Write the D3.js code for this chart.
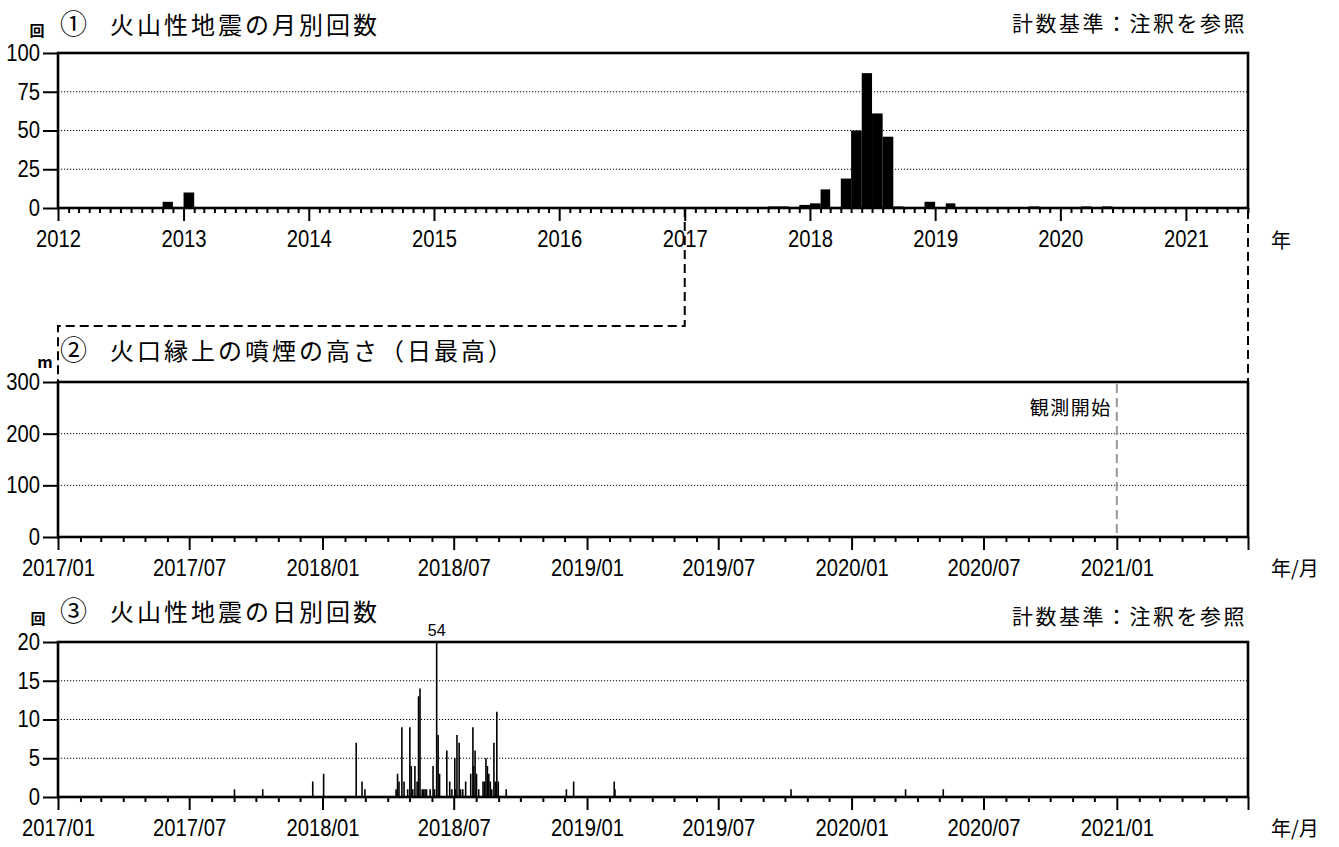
<!DOCTYPE html>
<html>
<head>
<meta charset="utf-8">
<script src="https://cdn.jsdelivr.net/npm/d3@7"></script>
<style>
    body { margin: 0; background: #fff; }
    svg { display: block; }
    .num { font-family: "Liberation Sans", Arial, sans-serif; }
    .jp { font-family: "Noto Sans CJK JP", sans-serif; }
</style>
</head>
<body>
<div id="chart"></div>
<script>
// ① 月別回数（0 の月は省略）
const monthlyMonths = ['2012-11', '2013-01', '2017-09', '2017-10', '2017-12', '2018-01', '2018-02',
    '2018-04', '2018-05', '2018-06', '2018-07', '2018-08', '2018-09', '2018-12', '2019-02',
    '2019-10', '2020-03', '2020-05'];
const monthlyCounts = [4, 10, 1, 1, 2, 3, 12, 19, 50, 87, 61, 46, 1, 4, 3, 1, 1, 1];

// ③ 日別回数（0 の日は省略）
const dailyDates = ['2017-09-01', '2017-10-10', '2017-12-18', '2018-01-02', '2018-02-16', '2018-02-24',
    '2018-02-28', '2018-04-12', '2018-04-14', '2018-04-16', '2018-04-20', '2018-04-23', '2018-04-28',
    '2018-05-01', '2018-05-03', '2018-05-05', '2018-05-08', '2018-05-11', '2018-05-13', '2018-05-15',
    '2018-05-18', '2018-05-20', '2018-05-22', '2018-05-24', '2018-05-29', '2018-06-02', '2018-06-04',
    '2018-06-07', '2018-06-09', '2018-06-11', '2018-06-21', '2018-06-25', '2018-06-28', '2018-07-02',
    '2018-07-03', '2018-07-05', '2018-07-08', '2018-07-10', '2018-07-13', '2018-07-17', '2018-07-24',
    '2018-07-27', '2018-07-28', '2018-07-30', '2018-08-01', '2018-08-04', '2018-08-10', '2018-08-12',
    '2018-08-14', '2018-08-16', '2018-08-18', '2018-08-20', '2018-08-22', '2018-08-25', '2018-08-27',
    '2018-08-29', '2018-08-31', '2018-09-11', '2018-12-03', '2018-12-13', '2019-02-07', '2019-02-08',
    '2019-10-09', '2020-03-15', '2020-05-06'];
const dailyCounts = [1, 1, 2, 3, 7, 2,
    1, 1, 3, 2, 9, 2, 1,
    9, 4, 1, 4, 2, 13, 14,
    1, 1, 1, 1, 1, 4, 1,
    54, 8, 3, 6, 2, 1, 5,
    1, 8, 7, 1, 1, 2, 3,
    9, 4, 6, 3, 1, 2, 2,
    5, 4, 3, 2, 1, 7, 2,
    11, 2, 1, 1, 2, 2, 1,
    1, 1, 1];

const yearLabels = ['2012', '2013', '2014', '2015', '2016', '2017', '2018', '2019', '2020', '2021'];
const monthLabels = ['2017/01', '2017/07', '2018/01', '2018/07', '2019/01', '2019/07', '2020/01', '2020/07', '2021/01'];
const countTicks = [0, 25, 50, 75, 100];
const heightTicks = [0, 100, 200, 300];
const dailyTicks = [0, 5, 10, 15, 20];
const plumeStart = '2021-01-01';

const W = 1339, H = 847;
const left = 58, right = 1248;
const p1 = { top: 53, bottom: 208 };
const p2 = { top: 382, bottom: 537 };
const p3 = { top: 642, bottom: 797 };

const parseMonth = d3.utcParse('%Y-%m');
const parseDay = d3.utcParse('%Y-%m-%d');
const parseLabel = d3.utcParse('%Y/%m');

const start1 = Date.UTC(2012, 0, 1), end1 = Date.UTC(2021, 6, 1);
const start2 = Date.UTC(2017, 0, 1), end2 = Date.UTC(2021, 6, 1);

const x1 = d3.scaleUtc().domain([start1, end1]).range([left, right]);
const x2 = d3.scaleUtc().domain([start2, end2]).range([left, right]);
const y1 = d3.scaleLinear().domain([0, 100]).range([p1.bottom, p1.top]);
const y2 = d3.scaleLinear().domain([0, 300]).range([p2.bottom, p2.top]);
const y3 = d3.scaleLinear().domain([0, 20]).range([p3.bottom, p3.top]);

const svg = d3.select('#chart').append('svg')
    .attr('width', W)
    .attr('height', H);

// 数字を縦長に見せる（細めの書体の代わり）
function narrow(sel, size) {
    sel.attr('class', 'num')
        .attr('font-size', size)
        .attr('fill', '#000')
        .each(function() {
            const t = d3.select(this);
            const x = +t.attr('x') || 0;
            t.attr('x', 0).attr('transform', `translate(${x},0) scale(0.88,1)`);
        });
}

function drawGrid(y, ticks) {
    svg.append('g')
        .selectAll('line')
        .data(ticks.slice(1, -1))
        .join('line')
        .attr('x1', left)
        .attr('x2', right)
        .attr('y1', d => y(d))
        .attr('y2', d => y(d))
        .attr('stroke', '#000')
        .attr('stroke-width', 1)
        .attr('stroke-dasharray', '1.2,1.8');
}

function drawYAxis(y, ticks) {
    const g = svg.append('g')
        .attr('transform', `translate(${left},0)`)
        .call(d3.axisLeft(y).tickValues(ticks).tickSize(15).tickPadding(3));
    g.select('.domain').remove();
    g.selectAll('line').attr('stroke-width', 2);
    narrow(g.selectAll('text'), 23);
}

function drawXAxis(x, yPos, minor, major, fmt) {
    const gMinor = svg.append('g')
        .attr('transform', `translate(0,${yPos})`)
        .call(d3.axisBottom(x).tickValues(minor).tickSize(5).tickFormat(''));
    gMinor.select('.domain').remove();
    gMinor.selectAll('line').attr('stroke-width', 2);

    const gMajor = svg.append('g')
        .attr('transform', `translate(0,${yPos})`)
        .call(d3.axisBottom(x).tickValues(major).tickSize(13).tickPadding(10).tickFormat(fmt));
    gMajor.select('.domain').remove();
    gMajor.selectAll('line').attr('stroke-width', 2);
    narrow(gMajor.selectAll('text'), 23);
}

function drawFrame(p) {
    svg.append('rect')
        .attr('x', left)
        .attr('y', p.top)
        .attr('width', right - left)
        .attr('height', p.bottom - p.top)
        .attr('fill', 'none')
        .attr('stroke', '#000')
        .attr('stroke-width', 2.6);
}

function addText(x, y, str, size, anchor, cls, spacing, weight) {
    return svg.append('text')
        .attr('class', cls)
        .attr('x', x)
        .attr('y', y)
        .attr('font-size', size)
        .attr('text-anchor', anchor || 'start')
        .attr('letter-spacing', spacing || 0)
        .attr('font-weight', weight || 'normal')
        .attr('fill', '#000')
        .text(str);
}

// ---------- ① 火山性地震の月別回数 ----------
const monthly = monthlyMonths.map((m, i) => ({ date: parseMonth(m), v: monthlyCounts[i] }));

drawGrid(y1, countTicks);

svg.append('g')
    .selectAll('rect')
    .data(monthly)
    .join('rect')
    .attr('x', d => x1(d.date))
    .attr('width', d => x1(d3.utcMonth.offset(d.date, 1)) - x1(d.date))
    .attr('y', d => y1(d.v))
    .attr('height', d => y1(0) - y1(d.v))
    .attr('fill', '#000');

const years = yearLabels.map(s => Date.UTC(+s, 0, 1));
const months1 = d3.utcMonth.range(start1, end1 + 1).filter(d => d.getUTCMonth() !== 0);
drawXAxis(x1, p1.bottom, months1, years, (d, i) => yearLabels[i]);
drawYAxis(y1, countTicks);
drawFrame(p1);

addText(37, 36, '回', 15, 'middle', 'jp', 0, 'bold');
addText(60, 34, '①', 27, 'start', 'jp');
addText(110, 34, '火山性地震の月別回数', 24, 'start', 'jp', 3);
addText(1247, 31, '計数基準：注釈を参照', 21, 'end', 'jp', 2.5);
addText(1271, 248, '年', 20, 'start', 'jp');

// 拡大範囲を示す破線
const connector = [
    [x1(start2), p1.bottom],
    [x1(start2), 326],
    [x2(start2), 326],
    [x2(start2), p2.top]
];
svg.append('path')
    .attr('d', d3.line()(connector))
    .attr('fill', 'none')
    .attr('stroke', '#000')
    .attr('stroke-width', 2)
    .attr('stroke-dasharray', '9,5');
svg.append('path')
    .attr('d', d3.line()([[x1(end2), p1.bottom + 2], [x2(end2), p2.top]]))
    .attr('fill', 'none')
    .attr('stroke', '#000')
    .attr('stroke-width', 2)
    .attr('stroke-dasharray', '9,5');

// ---------- ② 火口縁上の噴煙の高さ ----------
const months2 = d3.utcMonth.range(start2, end2 + 1).filter(d => d.getUTCMonth() % 6 !== 0);
const halfYears = monthLabels.map(s => parseLabel(s)).concat([new Date(end2)]);
const halfFmt = (d, i) => monthLabels[i] || '';

drawGrid(y2, heightTicks);

const startX = x2(parseDay(plumeStart));
svg.append('line')
    .attr('x1', startX)
    .attr('x2', startX)
    .attr('y1', p2.top + 2)
    .attr('y2', p2.bottom)
    .attr('stroke', '#999')
    .attr('stroke-width', 2)
    .attr('stroke-dasharray', '9,5');
addText(startX - 5, 415, '観測開始', 19, 'end', 'jp', 1.5);

drawXAxis(x2, p2.bottom, months2, halfYears, halfFmt);
drawYAxis(y2, heightTicks);
drawFrame(p2);

addText(45, 368, 'm', 16, 'middle', 'jp', 0, 'bold');
addText(60, 360, '②', 27, 'start', 'jp');
addText(110, 360, '火口縁上の噴煙の高さ（日最高）', 24, 'start', 'jp', 3);
addText(1271, 576, '年/月', 20, 'start', 'jp');

// ---------- ③ 火山性地震の日別回数 ----------
const daily = dailyDates.map((s, i) => ({ date: parseDay(s), v: dailyCounts[i] }));
const yMax3 = y3.domain()[1];

drawGrid(y3, dailyTicks);

svg.append('g')
    .selectAll('line')
    .data(daily)
    .join('line')
    .attr('x1', d => x2(d3.utcHour.offset(d.date, 12)))
    .attr('x2', d => x2(d3.utcHour.offset(d.date, 12)))
    .attr('y1', y3(0))
    .attr('y2', d => y3(Math.min(d.v, yMax3)))
    .attr('stroke', '#000')
    .attr('stroke-width', 1.6);

// 上限を超えた値のラベル
svg.append('g')
    .selectAll('text')
    .data(daily.filter(d => d.v > yMax3))
    .join('text')
    .attr('class', 'num')
    .attr('x', d => x2(d3.utcHour.offset(d.date, 12)))
    .attr('y', p3.top - 6)
    .attr('text-anchor', 'middle')
    .attr('font-size', 16)
    .text(d => d.v);

drawXAxis(x2, p3.bottom, months2, halfYears, halfFmt);
drawYAxis(y3, dailyTicks);
drawFrame(p3);

addText(38, 624, '回', 15, 'middle', 'jp', 0, 'bold');
addText(60, 621, '③', 27, 'start', 'jp');
addText(110, 621, '火山性地震の日別回数', 24, 'start', 'jp', 3);
addText(1247, 624, '計数基準：注釈を参照', 21, 'end', 'jp', 2.5);
addText(1271, 836, '年/月', 20, 'start', 'jp');
</script>
</body>
</html>
